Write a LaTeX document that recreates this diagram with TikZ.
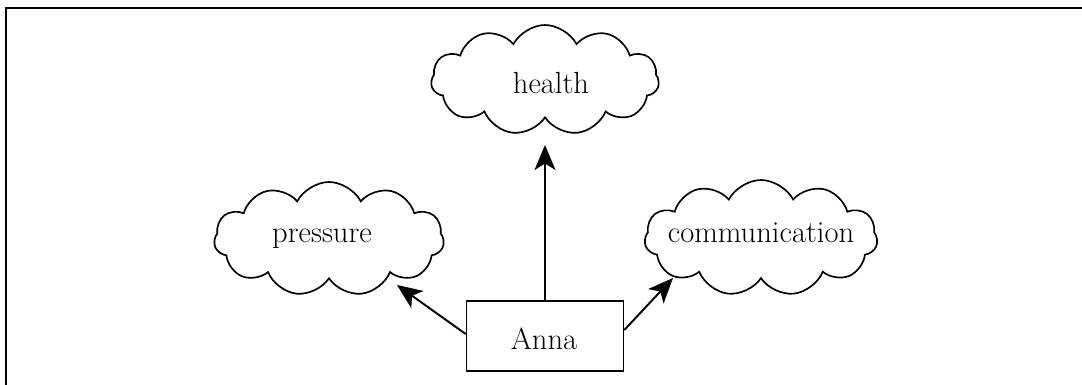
\documentclass[tikz,border=0pt]{standalone}
\usetikzlibrary{shapes.symbols,arrows.meta}
\begin{document}
\begin{tikzpicture}[x=0.02cm,y=-0.02cm,
  idea/.style={cloud, cloud puffs=11, cloud puff arc=125, aspect=2, draw, line width=0.95pt, inner sep=0pt},
  word/.style={anchor=base, inner sep=0pt, font=\fontsize{17.4}{21}\selectfont},
  person/.style={draw, line width=0.95pt, minimum width=3.14cm, minimum height=1.4cm, inner sep=0pt},
  link/.style={line width=1.1pt, -{Stealth[length=5mm,width=4.2mm,inset=1.3mm]}}]
\useasboundingbox (0,0) rectangle (1082,385);
\draw[line width=1.1pt] (6,385) -- (6,8) -- (1082,8);
\node[idea, minimum width=4.56cm, minimum height=2.2cm] (health) at (545,80) {};
\node[idea, minimum width=4.6cm, minimum height=2.28cm] (pressure) at (329,239) {};
\node[idea, minimum width=4.66cm, minimum height=2.32cm] (comm) at (761,238) {};
\node[person] (anna) at (545,336) {};
\node[word] (thealth) at (551,93) {health};
\node[word] (tpressure) at (322,242) {pressure};
\node[word] (tcomm) at (761,242) {communication};
\node[word] (tanna) at (544,349) {Anna};
\draw[link] (anna.north) -- ([shift={(0,65)}]health.center);
\draw[link] ([shift={(0,-2)}]anna.west) -- ([shift={(68,46)}]pressure.center);
\draw[link] ([shift={(0,-6)}]anna.east) -- ([shift={(-88,40)}]comm.center);
\end{tikzpicture}
\end{document}
